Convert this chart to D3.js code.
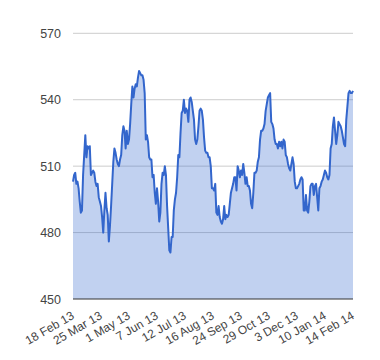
<!DOCTYPE html>
<html><head><meta charset="utf-8">
<script src="https://cdn.jsdelivr.net/npm/d3@7"></script>
<style>body{margin:0;background:#fff}svg{display:block}</style>
</head><body>
<svg id="c" width="380" height="360"></svg>
<script>
const tickLabels = ["18 Feb 13","25 Mar 13","1 May 13","7 Jun 13","12 Jul 13","16 Aug 13","24 Sep 13","29 Oct 13","3 Dec 13","10 Jan 14","14 Feb 14"];
const yTicks = [450, 480, 510, 540, 570];
const prices = [
503,506,507,502,503,500,494,489,490,506,515,524,514,519,518,519,506,507,508,507,
503,501,502,496,494,492,487,480,490,498,491,488,476,483,492,502,512,518,516,513,
511,510,513,515,524,528,526,518,526,520,522,529,538,546,541,545,547,546,550,553,
552,551,551,549,543,522,524,521,514,513,513,505,506,498,493,500,494,485,489,502,
507,506,510,506,492,482,472,471,478,478,490,495,498,505,515,514,525,534,535,540,
534,536,535,530,540,541,539,535,531,522,520,522,528,535,536,535,531,523,517,516,
516,514,514,510,500,500,499,502,489,488,492,487,485,484,486,492,486,488,487,488,
493,498,500,502,505,505,499,510,508,505,508,506,511,507,502,505,501,501,499,493,
491,498,507,507,508,512,514,522,526,526,527,529,535,538,541,542,543,530,529,527,
522,520,520,518,521,519,521,518,522,521,515,514,511,509,508,511,514,511,503,500,
500,501,502,504,505,504,490,490,497,490,489,494,501,502,502,497,501,502,496,490,
500,501,503,504,506,508,507,505,504,506,518,520,528,532,526,520,524,530,529,528,
526,523,520,519,531,537,543,544,543,543,544
];
const tickEvery = 25;

(function () {
const svg = d3.select("#c");
const pl = 73, pr = 353, pt = 33.3, pb = 299;
const x = d3.scaleLinear().domain([0, prices.length - 1]).range([pl, pr]);
const y = d3.scaleLinear().domain([450, 570]).range([pb, pt]);

svg.append("g").selectAll("line").data(yTicks.slice(1)).join("line")
  .attr("x1", pl).attr("x2", pr)
  .attr("y1", d => y(d)).attr("y2", d => y(d))
  .attr("stroke", "#cccccc").attr("stroke-width", 1);

svg.append("path").datum(prices)
  .attr("d", d3.area().x((d, i) => x(i)).y0(y(450)).y1(d => y(d)))
  .attr("fill", "#3366cc").attr("fill-opacity", 0.3);

svg.append("path").datum(prices)
  .attr("d", d3.line().x((d, i) => x(i)).y(d => y(d)))
  .attr("fill", "none").attr("stroke", "#3366cc").attr("stroke-width", 2)
  .attr("stroke-linejoin", "round");

svg.append("line").attr("x1", pl).attr("x2", pr)
  .attr("y1", y(450)).attr("y2", y(450))
  .attr("stroke", "#333333").attr("stroke-width", 1);

const yAxis = d3.axisLeft(y).tickValues(yTicks).tickSize(0).tickPadding(12);
const gy = svg.append("g").attr("transform", `translate(${pl},0)`).call(yAxis);
gy.select(".domain").remove();
gy.selectAll("text").attr("font-family", "Liberation Sans, Arial, sans-serif")
  .attr("font-size", 12.5).attr("fill", "#444");

const xTickIdx = tickLabels.map((_, k) => k * tickEvery);
svg.append("g").selectAll("text").data(xTickIdx).join("text")
  .attr("transform", d => `translate(${x(d) + 2},318) rotate(-30)`)
  .attr("text-anchor", "end")
  .attr("font-family", "Liberation Sans, Arial, sans-serif")
  .attr("font-size", 12).attr("fill", "#444")
  .text((d, k) => tickLabels[k]);
})();
</script>
</body></html>
